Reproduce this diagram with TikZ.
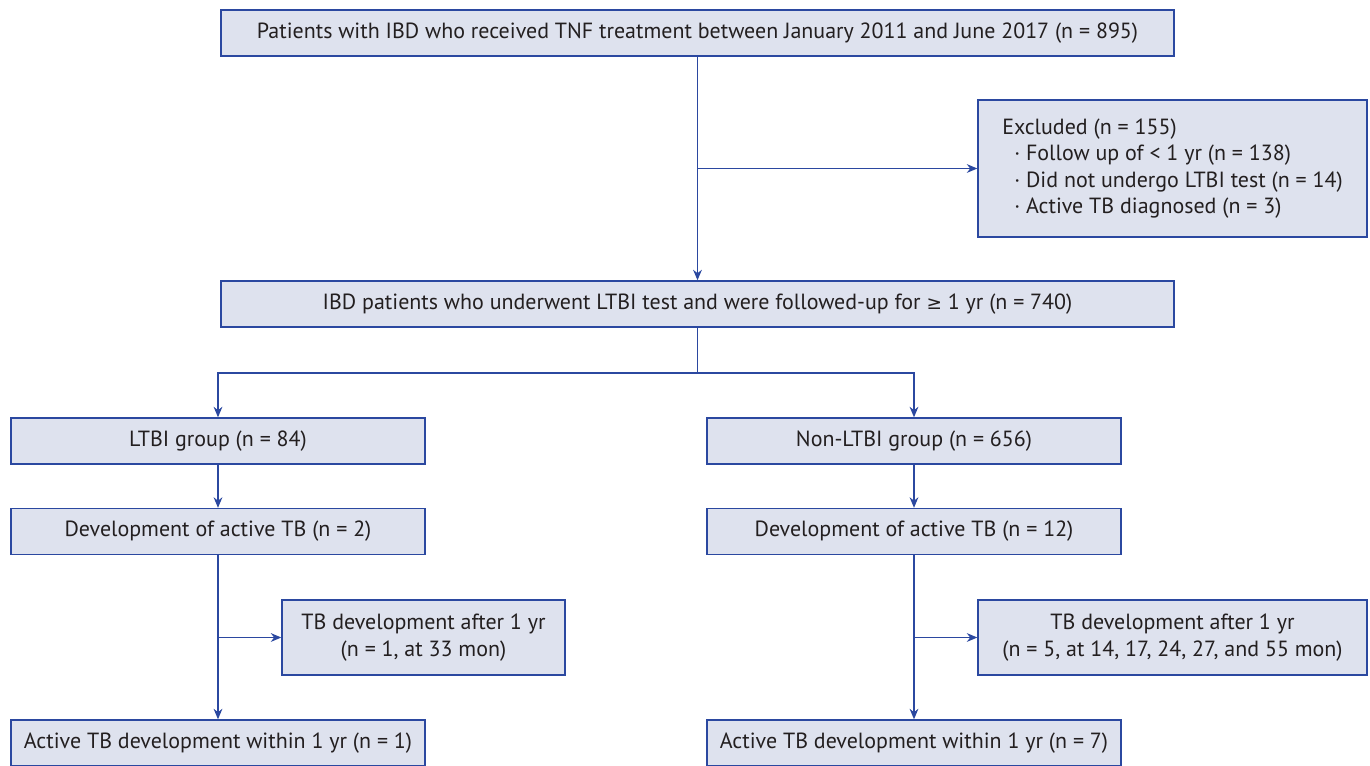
\documentclass[tikz,border=0pt]{standalone}
\usepackage{fontspec}
\setmainfont{PT Sans}
\newfontfamily\symfont{DejaVu Sans}
\usepackage{tikz}
\usetikzlibrary{arrows.meta,positioning,calc}

\definecolor{boxfill}{HTML}{DEE2EE}
\definecolor{boxline}{HTML}{2B48A0}
\definecolor{textgray}{HTML}{231F20}

\begin{document}
\begin{tikzpicture}[
    x=0.02cm, y=-0.02cm,
    >={Stealth[length=6pt,width=5pt]},
    font=\fontsize{12.5}{15.1}\selectfont,
    block/.style={draw=boxline, fill=boxfill, text=textgray, line width=0.8pt, align=center, minimum height=0.92cm, inner sep=2pt},
    wide/.style={block, minimum width=19.06cm},
    half/.style={block, minimum width=8.28cm},
    arr/.style={->, draw=boxline, line width=0.8pt},
    line/.style={draw=boxline, line width=0.8pt}
]
    \useasboundingbox (0,0) rectangle (1370,765);

    \node[wide] (start) at (697.5,33) {Patients with IBD who received TNF treatment between January 2011 and June 2017 (n = 895)};
    \node[block, minimum width=7.78cm, minimum height=2.74cm, align=left] (excl) at (1172.5,168.5) {Excluded (n = 155)\\
        \hspace*{0.55em}· Follow up of < 1 yr (n = 138)\\
        \hspace*{0.55em}· Did not undergo LTBI test (n = 14)\\
        \hspace*{0.55em}· Active TB diagnosed (n = 3)};
    \node[wide] (cohort) at (697.5,304) {IBD patients who underwent LTBI test and were followed-up for {\symfont\fontsize{10.5}{12}\selectfont ≥} 1 yr (n = 740)};
    \coordinate (split) at (697.5,373);

    \node[half] (ltbi) at (218,441) {LTBI group (n = 84)};
    \node[half] (nonltbi) at (914,441) {Non-LTBI group (n = 656)};
    \node[half] (devl) at (218,531.5) {Development of active TB (n = 2)};
    \node[half] (devr) at (914,531.5) {Development of active TB (n = 12)};
    \node[block, minimum width=5.66cm, minimum height=1.5cm] (afterl) at (423.5,637.5) {TB development after 1 yr\\(n = 1, at 33 mon)};
    \node[block, minimum width=7.78cm, minimum height=1.5cm] (afterr) at (1172.5,637.5) {TB development after 1 yr\\(n = 5, at 14, 17, 24, 27, and 55 mon)};
    \node[half] (withinl) at (218,743) {Active TB development within 1 yr (n = 1)};
    \node[half] (withinr) at (914,743) {Active TB development within 1 yr (n = 7)};

    \draw[arr] (start) -- (cohort);
    \draw[arr] (start.south |- excl.west) -- (excl.west);
    \draw[line] (cohort) -- (split);
    \draw[arr] (split) -| (ltbi);
    \draw[arr] (split) -| (nonltbi);
    \draw[arr] (ltbi) -- (devl);
    \draw[arr] (nonltbi) -- (devr);
    \draw[arr] (devl) -- (withinl);
    \draw[arr] (devr) -- (withinr);
    \draw[arr] (devl.south |- afterl.west) -- (afterl.west);
    \draw[arr] (devr.south |- afterr.west) -- (afterr.west);
\end{tikzpicture}
\end{document}
